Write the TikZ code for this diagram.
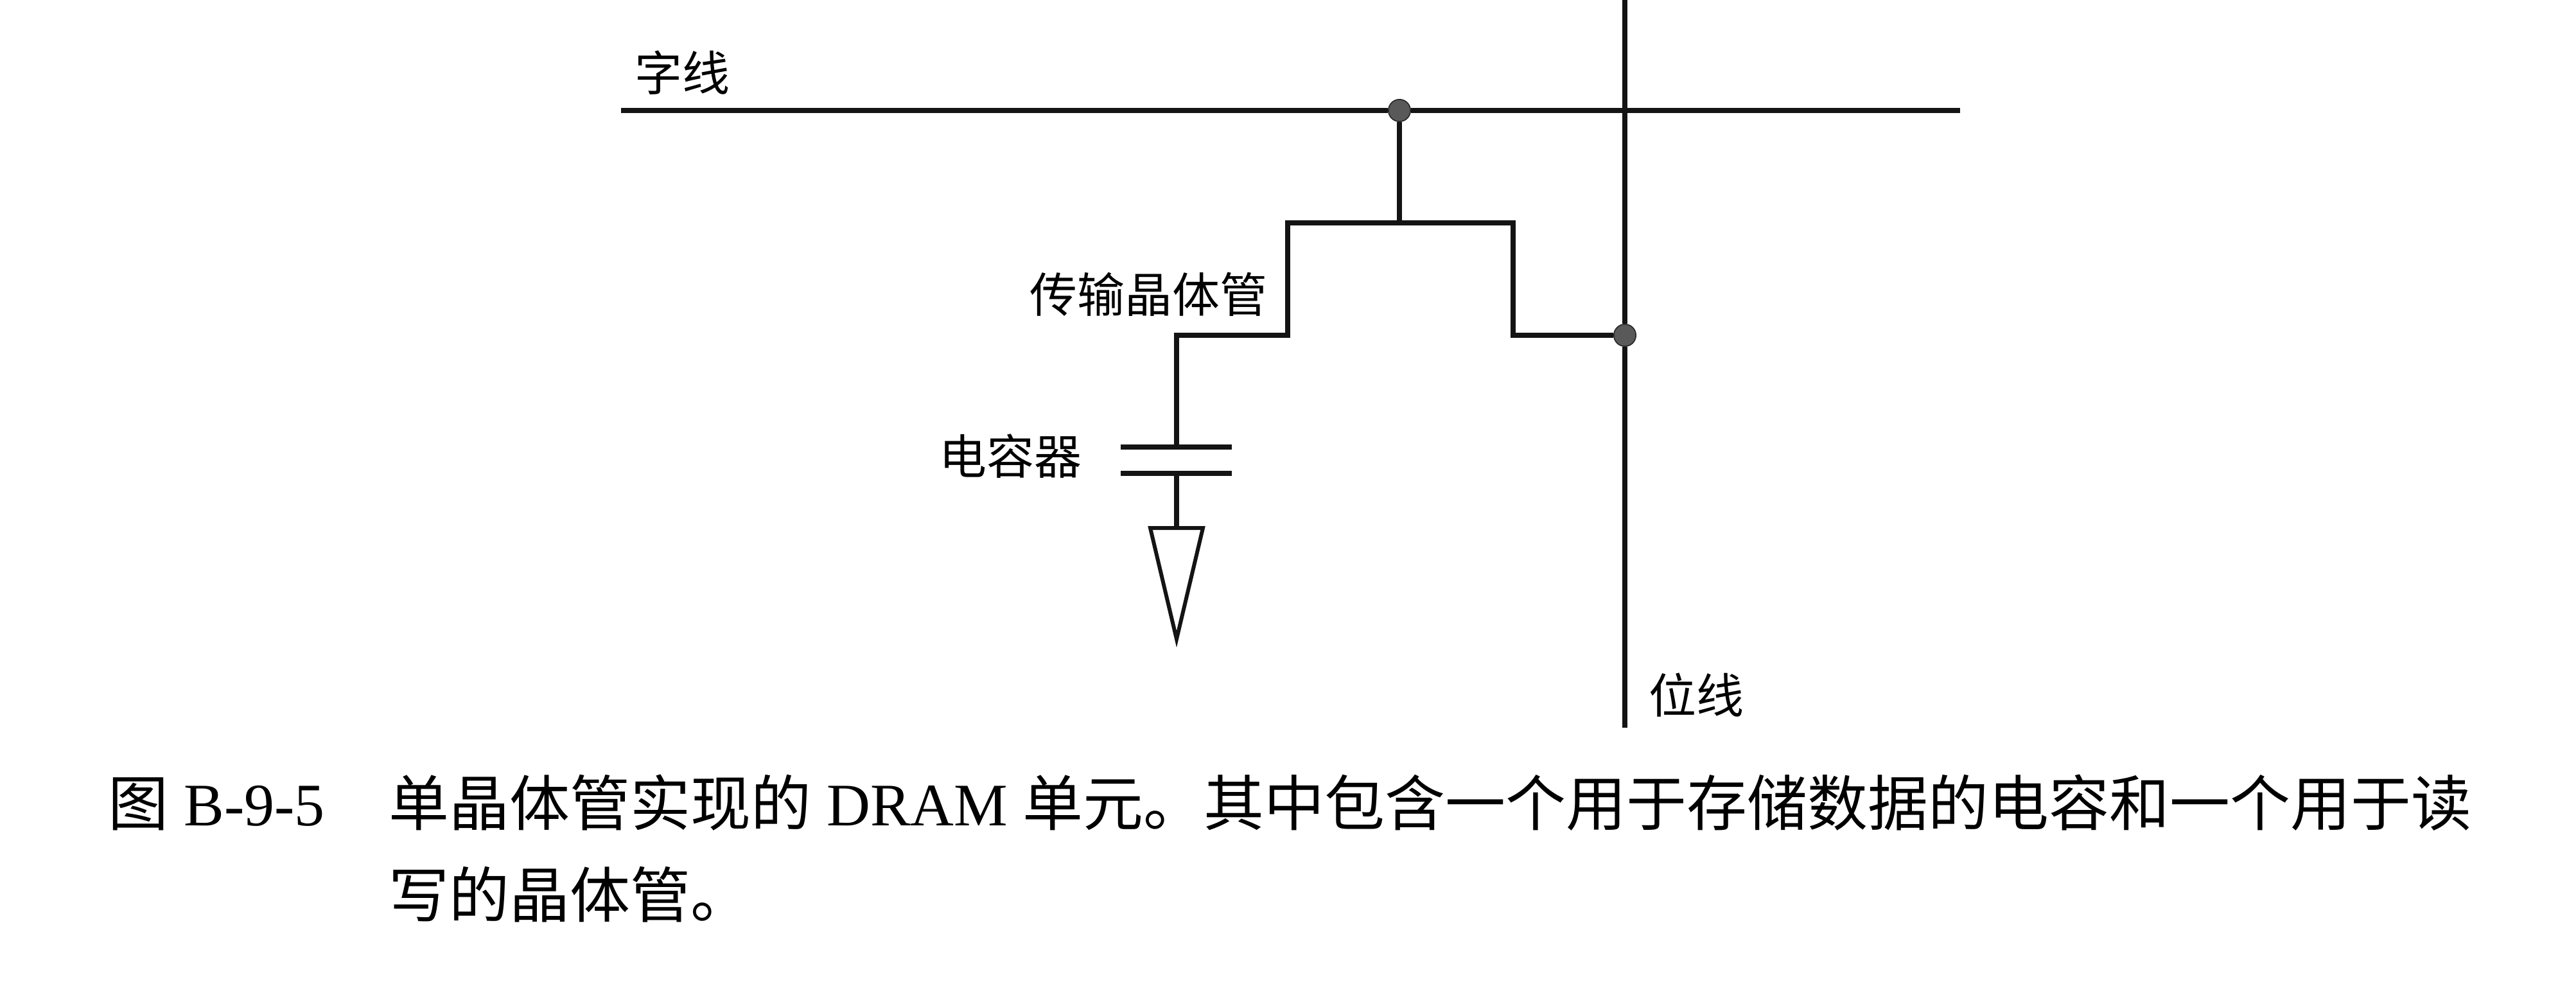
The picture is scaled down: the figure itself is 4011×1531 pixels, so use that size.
\documentclass[tikz,border=0pt]{standalone}
\usepackage{fontspec}
\setmainfont{Liberation Serif}
\newfontfamily\cjk{Noto Sans CJK SC}
\tikzset{
  wire/.style={line width=1.9pt,draw=black!92,line join=miter},
  junction/.style={circle,fill=black!65,draw=black!85,line width=0.4pt,minimum size=8.6pt,inner sep=0pt},
  lbl/.style={inner sep=0pt,font=\cjk\fontsize{18.5}{18.5}\selectfont,text=black},
  captext/.style={inner sep=0pt,anchor=base west,text=black,font=\fontsize{23.5}{23.5}\selectfont}
}
\begin{document}
\begin{tikzpicture}[x=0.25pt,y=-0.25pt]
\useasboundingbox (0,0) rectangle (4011,1531);
% junctions and free ends
\node[junction] (gate) at (2179,172) {};
\node[junction] (bit) at (2530,522) {};
\coordinate (wlL) at (967,172);
\coordinate (wlR) at (3052,172);
\coordinate (blT) at (2530,0);
\coordinate (blB) at (2530,1133);
\coordinate (tTop) at (2179,347);
\coordinate (capA) at (1832,696);
\coordinate (capB) at (1832,737);
\coordinate (gndT) at (1832,822);
\coordinate (gndL) at (1791,822);
\coordinate (gndR) at (1873,822);
\coordinate (gndTip) at (1832,995);
% lines
\draw[wire] (wlL) -- (gate) -- (wlR);
\draw[wire] (blT) -- (bit) -- (blB);
\draw[wire] (gate) -- (tTop);
\draw[wire] (capA) |- (2005,522) |- (2356,347) |- (bit);
\draw[wire] (1745,696) -- (1918,696);
\draw[wire] (1745,737) -- (1918,737);
\draw[wire] (capB) -- (gndT);
\draw[wire,line width=1.5pt] (gndL) -- (gndR) -- (gndTip) -- cycle;
% labels
\node[lbl,anchor=west] (l1) at (988,113) {字线};
\node[lbl,anchor=west] (l2) at (1603,458) {传输晶体管};
\node[lbl,anchor=west] (l3) at (1462,710) {电容器};
\node[lbl,anchor=west] (l4) at (2567,1082) {位线};
% caption
\node[captext] (c0) at (168,1285) {{\cjk 图} B-9-5};
\node[captext] (c1) at (605,1285) {{\cjk 单晶体管实现的} DRAM {\cjk 单元。其中包含一个用于存储数据的电容和一个用于读}};
\node[captext] (c2) at (605,1428) {{\cjk 写的晶体管。}};
\end{tikzpicture}
\end{document}
